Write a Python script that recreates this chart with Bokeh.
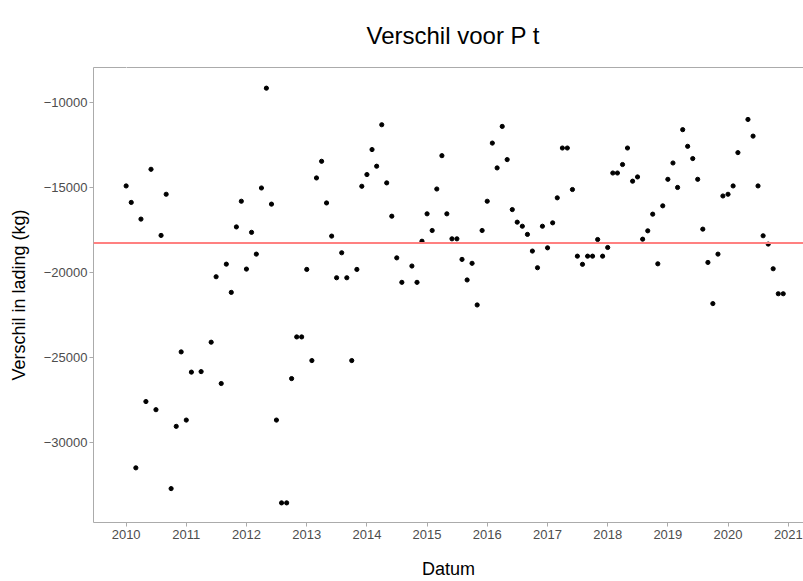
import pandas as pd
from bokeh.plotting import figure
from bokeh.models import (Range1d, FixedTicker, DatetimeTickFormatter, Span, Title,
                          LinearAxis)
from bokeh.embed import file_html
from bokeh.resources import INLINE

# monthly observations (first day of month), a few months are missing
months = [
    "2010-01", "2010-02", "2010-03", "2010-04", "2010-05", "2010-06", "2010-07", "2010-08",
    "2010-09", "2010-10", "2010-11", "2010-12",
    "2011-01", "2011-02", "2011-04", "2011-06", "2011-07", "2011-08", "2011-09",
    "2011-10", "2011-11", "2011-12",
    "2012-01", "2012-02", "2012-03", "2012-04", "2012-05", "2012-06", "2012-07", "2012-08",
    "2012-09", "2012-10", "2012-11", "2012-12",
    "2013-01", "2013-02", "2013-03", "2013-04", "2013-05", "2013-06", "2013-07", "2013-08",
    "2013-09", "2013-10", "2013-11", "2013-12",
    "2014-01", "2014-02", "2014-03", "2014-04", "2014-05", "2014-06", "2014-07", "2014-08",
    "2014-10", "2014-11", "2014-12",
    "2015-01", "2015-02", "2015-03", "2015-04", "2015-05", "2015-06", "2015-07", "2015-08",
    "2015-09", "2015-10", "2015-11", "2015-12",
    "2016-01", "2016-02", "2016-03", "2016-04", "2016-05", "2016-06", "2016-07", "2016-08",
    "2016-09", "2016-10", "2016-11", "2016-12",
    "2017-01", "2017-02", "2017-03", "2017-04", "2017-05", "2017-06", "2017-07", "2017-08",
    "2017-09", "2017-10", "2017-11", "2017-12",
    "2018-01", "2018-02", "2018-03", "2018-04", "2018-05", "2018-06", "2018-07", "2018-08",
    "2018-09", "2018-10", "2018-11", "2018-12",
    "2019-01", "2019-02", "2019-03", "2019-04", "2019-05", "2019-06", "2019-07", "2019-08",
    "2019-09", "2019-10", "2019-11", "2019-12",
    "2020-01", "2020-02", "2020-03", "2020-05", "2020-06", "2020-07", "2020-08",
    "2020-09", "2020-10", "2020-11", "2020-12",
]

verschil = [
    -14930, -15900, -31510, -16880, -27610, -13950, -28090, -17840,
    -15420, -32730, -29070, -24690,
    -28700, -25880, -25850, -24120, -20270, -26550, -19530,
    -21190, -17340, -15830,
    -19820, -17660, -18940, -15050, -9180, -16000, -28700, -33570,
    -33570, -26260, -23810, -23810,
    -19840, -25200, -14460, -13480, -15930, -17880, -20330, -18860,
    -20330, -25200, -19840, -14950,
    -14260, -12790, -13770, -11330, -14750, -16710, -19160, -20600,
    -19640, -20600, -18180,
    -16570, -17550, -15110, -13150, -16570, -18040, -18040, -19250,
    -20460, -19480, -21930, -17550,
    -15830, -12410, -13870, -11430, -13380, -16320, -17060, -17300,
    -17780, -18760, -19740, -17300,
    -18570, -17100, -15630, -12700, -12700, -15140, -19060, -19540,
    -19060, -19060, -18080, -19060,
    -18550, -14170, -14170, -13670, -12700, -14650, -14400, -18060,
    -17570, -16590, -19510, -16100,
    -14540, -13580, -15020, -11620, -12600, -13320, -14540, -17470,
    -19430, -21850, -18940, -15520,
    -15420, -14930, -12970, -11020, -12000, -14930, -17860,
    -18350, -19800, -21270, -21270,
]

reference_level = -18290
y_ticks = [-30000, -25000, -20000, -15000, -10000]
year_ticks = [str(y) for y in range(2010, 2022)]

dates = pd.to_datetime([m + "-01" for m in months])
tick_dates = pd.to_datetime([y + "-01-01" for y in year_ticks])
tick_ms = [int(t.value // 10**6) for t in tick_dates]

x_start = pd.Timestamp("2009-06-17")
x_end = pd.Timestamp("2021-04-03")
y_start, y_end = -34724, -7964

grey_line = "#ababab"
font = "Liberation Sans"

p = figure(
    width=803, height=581,
    x_axis_type="datetime",
    x_range=Range1d(x_start, x_end),
    y_range=Range1d(y_start, y_end),
    output_backend="svg", toolbar_location=None,
    min_border_left=93, min_border_right=0, min_border_top=67, min_border_bottom=58,
)
p.background_fill_color = "white"
p.border_fill_color = "white"
p.outline_line_color = None
p.grid.visible = False

# bottom (date) axis
xa = p.below[0]
xa.ticker = FixedTicker(ticks=tick_ms)
xa.formatter = DatetimeTickFormatter(years="%Y", months="%Y", days="%Y")
xa.axis_line_color = grey_line
xa.major_tick_line_color = grey_line
xa.minor_tick_line_color = None
xa.major_tick_out = 4
xa.major_tick_in = 0
xa.major_label_standoff = 3
xa.major_label_text_font = font
xa.major_label_text_font_size = "13px"
xa.major_label_text_color = "#4d4d4d"
xa.axis_label = "Datum"
xa.axis_label_text_font = font
xa.axis_label_text_font_size = "18px"
xa.axis_label_text_font_style = "normal"
xa.axis_label_text_color = "black"
xa.axis_label_standoff = 17

# top border line: an axis whose single (white, unlabelled) tick spaces the title
spacer_tick = tick_ms[0]
top_axis = LinearAxis(ticker=FixedTicker(ticks=[spacer_tick]), axis_line_color=grey_line,
                      major_tick_out=17, major_tick_in=0, major_label_standoff=0,
                      major_tick_line_color="white", minor_tick_line_color=None,
                      major_label_overrides={spacer_tick: ""},
                      major_label_text_font_size="1px")
p.add_layout(top_axis, "above")

p.title = Title(text="Verschil voor P t", align="left", offset=273,
                text_font_size="24px", text_font=font, text_font_style="normal",
                text_color="black", standoff=4)

p.scatter(dates, verschil, size=4.2, color="black")

p.add_layout(Span(location=reference_level, dimension="width",
                  line_color="#ff8080", line_width=2))

# y axis
ya = p.left[0]
ya.ticker = FixedTicker(ticks=y_ticks)
ya.axis_line_color = grey_line
ya.major_tick_line_color = grey_line
ya.minor_tick_line_color = None
ya.major_tick_out = 4
ya.major_tick_in = 0
ya.major_label_standoff = 2
ya.major_label_text_font = font
ya.major_label_text_font_size = "13px"
ya.major_label_text_color = "#4d4d4d"
ya.axis_label = "Verschil in lading (kg)"
ya.axis_label_text_font = font
ya.axis_label_text_font_size = "18px"
ya.axis_label_text_font_style = "normal"
ya.axis_label_text_color = "black"
ya.axis_label_standoff = 12

open("out.html", "w").write(file_html(p, INLINE))
